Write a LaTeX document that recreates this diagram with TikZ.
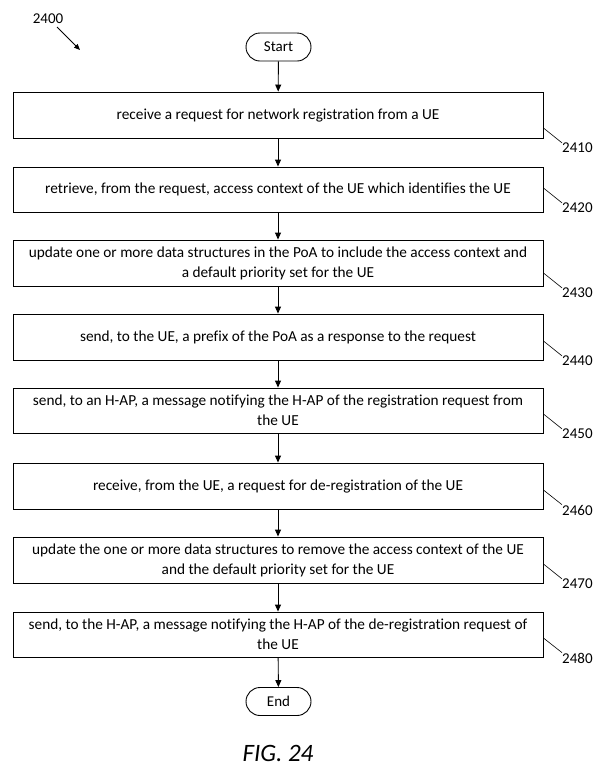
\documentclass[tikz,border=0pt]{standalone}
\usepackage{fontspec}
\setmainfont{Carlito}[Ligatures={NoCommon}]
\usetikzlibrary{arrows.meta}
\tikzset{
  stepbox/.style={draw, line width=0.9pt, minimum width=530pt, inner sep=0pt, align=center,
    font=\fontsize{15.3}{20}\selectfont},
  term/.style={draw, line width=0.9pt, rounded corners=14pt, minimum width=65pt, minimum height=28pt,
    inner sep=0pt, font=\fontsize{15}{18}\selectfont},
  flow/.style={line width=0.9pt, -{Triangle[length=7pt,width=6pt]}},
  leader/.style={line width=0.6pt},
  reflbl/.style={font=\fontsize{15}{18}\selectfont, inner sep=0pt}
}
\begin{document}
\begin{tikzpicture}[x=1pt,y=-1pt]
\useasboundingbox (0,0) rectangle (601,780);
\node[term] (start) at (278.5,47) {Start};
\node[stepbox, minimum height=46pt] (b1) at (278,115) {receive a request for network registration from a UE};
\node[stepbox, minimum height=45pt] (b2) at (278,189.5) {retrieve, from the request, access context of the UE which identifies the UE};
\node[stepbox, minimum height=46pt] (b3) at (278,263) {update one or more data structures in the PoA to include the access context and\\ a default priority set for the UE};
\node[stepbox, minimum height=46pt] (b4) at (278,337) {send, to the UE, a prefix of the PoA as a response to the request};
\node[stepbox, minimum height=45pt] (b5) at (278,410.5) {send, to an H-AP, a message notifying the H-AP of the registration request from\\ the UE};
\node[stepbox, minimum height=46pt] (b6) at (278,486) {receive, from the UE, a request for de-registration of the UE};
\node[stepbox, minimum height=46pt] (b7) at (278,560) {update the one or more data structures to remove the access context of the UE\\ and the default priority set for the UE};
\node[stepbox, minimum height=45pt] (b8) at (278,634.5) {send, to the H-AP, a message notifying the H-AP of the de-registration request of\\ the UE};
\node[term] (end) at (278.5,701.5) {End};
\node[font=\fontsize{25}{30}\selectfont\itshape] (fig) at (278,753) {FIG. 24};

\draw[flow] (start) -- (b1);
\draw[flow] (b1) -- (b2);
\draw[flow] (b2) -- (b3);
\draw[flow] (b3) -- (b4);
\draw[flow] (b4) -- (b5);
\draw[flow] (b5) -- (b6);
\draw[flow] (b6) -- (b7);
\draw[flow] (b7) -- (b8);
\draw[flow] (b8) -- (end);

\node[reflbl] (l0) at (48,19) {2400};
\coordinate (a0) at (80,50);
\draw[line width=0.9pt, -{Triangle[length=6pt,width=5pt]}] (57,27) -- (a0);

\foreach \b/\t/\y in {b1/2410/148, b2/2420/208, b3/2430/293, b4/2440/361, b5/2450/434, b6/2460/510, b7/2470/584, b8/2480/658}{
  \node[reflbl, anchor=west] (lbl\t) at (562,\y) {\t};
  \draw[leader] (b1.east |- 0,\y-20) -- (lbl\t.north west);
}
\end{tikzpicture}
\end{document}
